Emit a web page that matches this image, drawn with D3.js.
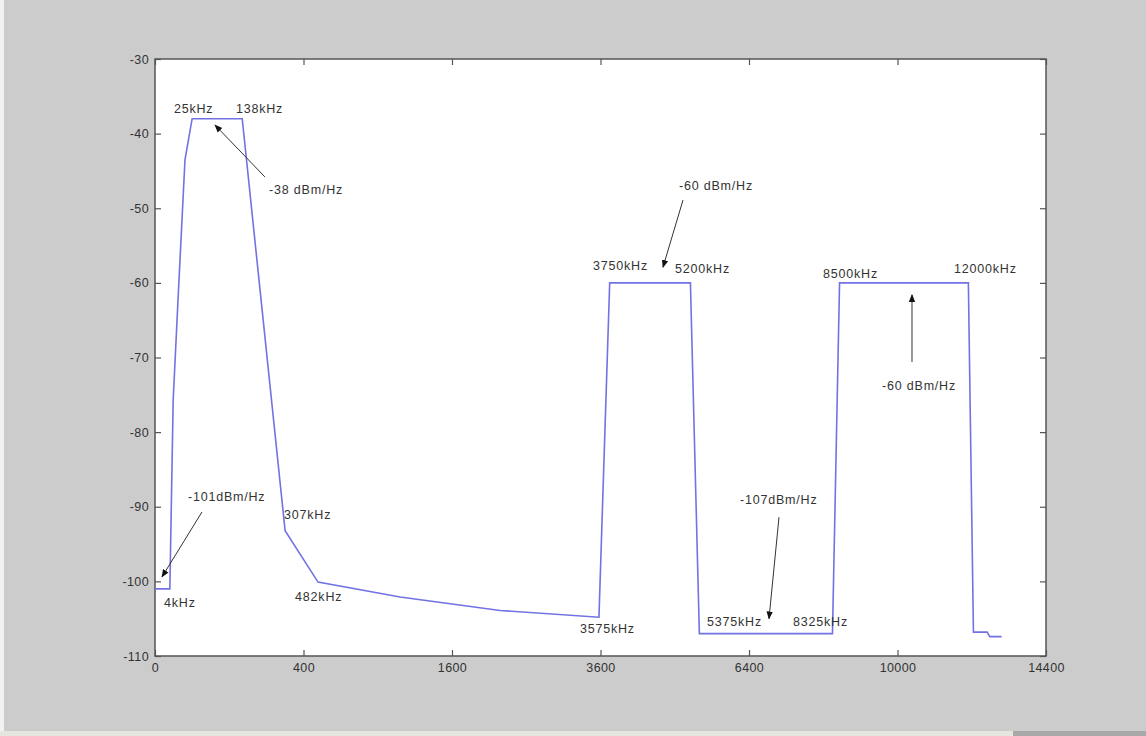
<!DOCTYPE html>
<html>
<head>
<meta charset="utf-8">
<script src="https://cdn.jsdelivr.net/npm/d3@7"></script>
<style>
  html, body { margin: 0; padding: 0; background: #cccccc; }
  svg { display: block; }
  text { font-family: "Liberation Sans", Arial, sans-serif; }
</style>
</head>
<body>
<svg id="chart" width="1146" height="736"></svg>
<script>
// ---- data ----
const freqKHz = [0, 4, 6, 9.6, 14.2, 16.3, 25, 138, 307, 482, 1090, 2160, 3575, 3750, 5200, 5375, 8325, 8500, 12000, 12150, 12560, 12640, 13000];
const psdDbm  = [-101, -101, -75.7, -62.3, -48.9, -43.5, -38, -38, -93.2, -100.1, -102.1, -103.9, -104.8, -60, -60, -107, -107, -60, -60, -106.8, -106.8, -107.4, -107.4];
const xTicks = [0, 400, 1600, 3600, 6400, 10000, 14400];
const yTicks = [-110, -100, -90, -80, -70, -60, -50, -40, -30];

// annotation labels: text, anchor frequency (kHz), anchor level (dBm/Hz)
const labelText = ["25kHz", "138kHz", "-38 dBm/Hz", "-101dBm/Hz", "4kHz", "307kHz", "482kHz", "3575kHz",
                   "-60 dBm/Hz", "3750kHz", "5200kHz", "-107dBm/Hz", "5375kHz", "8325kHz", "8500kHz", "12000kHz", "-60 dBm/Hz"];
const labelFreq = [6.5, 119, 236, 19.7, 1.47, 302, 356, 3276, 4980, 3480, 4905, 6208, 5527, 7384, 8094, 11580, 9587];
const labelDb   = [-36.7, -36.7, -47.5, -88.7, -102.9, -91.1, -102.1, -106.4, -47.0, -57.7, -58.1, -89.1, -105.5, -105.5, -58.8, -58.1, -73.8];

// arrows: from (freq, dB) to tip (freq, dB)
const arrowFromF = [219, 40, 5057, 7063, 10394];
const arrowFromD = [-45.8, -90.7, -48.9, -91.4, -70.6];
const arrowToF   = [65.3, 0.89, 4681, 6838, 10394];
const arrowToD   = [-38.85, -99.4, -57.9, -105.0, -61.6];

// ---- layout ----
const svg = d3.select("#chart");
const W = 1146, H = 736;
const plot = { left: 155, right: 1046, top: 59, bottom: 656 };

svg.append("rect").attr("width", W).attr("height", H).attr("fill", "#cccccc");
svg.append("rect").attr("x", 0).attr("y", 0).attr("width", 4).attr("height", H).attr("fill", "#f2f2f2");
svg.append("rect").attr("x", 0).attr("y", 731).attr("width", W).attr("height", 5).attr("fill", "#e6e6e0");
svg.append("rect").attr("x", 1013).attr("y", 731).attr("width", 133).attr("height", 5).attr("fill", "#a8a8a8");

const x = d3.scaleSqrt().domain([0, 14400]).range([plot.left, plot.right]);
const y = d3.scaleLinear().domain([-110, -30]).range([plot.bottom, plot.top]);

svg.append("rect")
  .attr("x", plot.left).attr("y", plot.top)
  .attr("width", plot.right - plot.left).attr("height", plot.bottom - plot.top)
  .attr("fill", "#ffffff");

// axes (ticks inside, mirrored on all sides like a boxed plot)
const tickLen = 6;
const axisColor = "#555555";
const fontSize = 12.5;
const plainFmt = d => String(d);

const bottomAxis = d3.axisBottom(x).tickValues(xTicks).tickSize(-tickLen).tickPadding(7).tickFormat(plainFmt);
const topAxis = d3.axisTop(x).tickValues(xTicks).tickSize(-tickLen).tickFormat("");
const leftAxis = d3.axisLeft(y).tickValues(yTicks).tickSize(-tickLen).tickPadding(6).tickFormat(plainFmt);
const rightAxis = d3.axisRight(y).tickValues(yTicks).tickSize(-tickLen).tickFormat("");

function styleAxis(g) {
  g.select(".domain").remove();
  g.selectAll(".tick line").attr("stroke", axisColor).attr("stroke-width", 1.2);
  g.selectAll(".tick text").attr("fill", "#333").attr("font-size", fontSize)
    .attr("font-family", "'Liberation Sans', Arial, sans-serif").attr("letter-spacing", "0.4px");
}

svg.append("g").attr("transform", `translate(0,${plot.bottom})`).call(bottomAxis).call(styleAxis);
svg.append("g").attr("transform", `translate(0,${plot.top})`).call(topAxis).call(styleAxis);
svg.append("g").attr("transform", `translate(${plot.left},0)`).call(leftAxis).call(styleAxis);
svg.append("g").attr("transform", `translate(${plot.right},0)`).call(rightAxis).call(styleAxis);

// frame
svg.append("rect")
  .attr("x", plot.left).attr("y", plot.top)
  .attr("width", plot.right - plot.left).attr("height", plot.bottom - plot.top)
  .attr("fill", "none").attr("stroke", axisColor).attr("stroke-width", 1.5);

// spectrum line
const pts = freqKHz.map((f, i) => [f, psdDbm[i]]);
svg.append("path")
  .datum(pts)
  .attr("fill", "none")
  .attr("stroke", "#7272e4")
  .attr("stroke-width", 1.6)
  .attr("stroke-linejoin", "miter")
  .attr("d", d3.line().x(d => x(d[0])).y(d => y(d[1])));

// arrows
const defs = svg.append("defs");
defs.append("marker")
  .attr("id", "ah").attr("viewBox", "0 0 10 10").attr("refX", 9).attr("refY", 5)
  .attr("markerWidth", 8).attr("markerHeight", 8).attr("markerUnits", "userSpaceOnUse")
  .attr("orient", "auto")
  .append("path").attr("d", "M0,1 L10,5 L0,9 Z").attr("fill", "#111");

arrowFromF.forEach((f, i) => {
  svg.append("line")
    .attr("x1", x(f)).attr("y1", y(arrowFromD[i]))
    .attr("x2", x(arrowToF[i])).attr("y2", y(arrowToD[i]))
    .attr("stroke", "#333").attr("stroke-width", 1)
    .attr("marker-end", "url(#ah)");
});

// labels
labelText.forEach((t, i) => {
  svg.append("text")
    .attr("x", x(labelFreq[i])).attr("y", y(labelDb[i]))
    .attr("dominant-baseline", "central")
    .attr("font-size", fontSize)
    .attr("letter-spacing", "0.8px")
    .attr("fill", "#333")
    .text(t);
});
</script>
</body>
</html>
